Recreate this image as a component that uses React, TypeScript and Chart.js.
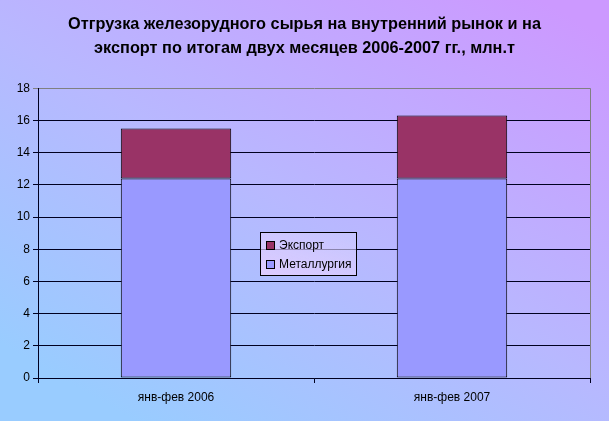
import React, { useEffect, useRef } from "react";
import { Chart, registerables } from "chart.js";

Chart.register(...registerables);

const categories = ["янв-фев 2006", "янв-фев 2007"];
const metallurgy = [12.4, 12.4];
const exportVals = [3.1, 3.9];
const titleLines = [
  "Отгрузка железорудного сырья на внутренний рынок и на",
  "экспорт по итогам двух месяцев 2006-2007 гг., млн.т",
];
const legendItems = [
  { label: "Экспорт", color: "#993366" },
  { label: "Металлургия", color: "#9999FF" },
];

const borderPlugin = {
  id: "plotBorder",
  beforeDatasetsDraw(chart: any) {
    const { ctx, chartArea } = chart;
    ctx.save();
    ctx.strokeStyle = "#808080";
    ctx.lineWidth = 1;
    ctx.beginPath();
    ctx.moveTo(chartArea.right + 0.5, chartArea.top);
    ctx.lineTo(chartArea.right + 0.5, chartArea.bottom);
    ctx.stroke();
    ctx.restore();
  },
};

export default function App() {
  const ref = useRef<HTMLCanvasElement>(null);
  useEffect(() => {
    if (!ref.current) return;
    const chart = new Chart(ref.current, {
      type: "bar",
      data: {
        labels: categories,
        datasets: [
          {
            label: "Металлургия",
            data: metallurgy,
            backgroundColor: "#9999FF",
            borderColor: "#000000",
            borderWidth: 1,
            borderSkipped: false,
          },
          {
            label: "Экспорт",
            data: exportVals,
            backgroundColor: "#993366",
            borderColor: "#000000",
            borderWidth: 1,
            borderSkipped: false,
          },
        ],
      },
      options: {
        animation: false,
        responsive: false,
        layout: { padding: { left: 0, right: 0, top: 0, bottom: 0 } },
        datasets: { bar: { categoryPercentage: 1, barPercentage: 0.4 } },
        plugins: {
          legend: { display: false },
          tooltip: { enabled: false },
          title: {
            display: true,
            text: titleLines,
            color: "#000000",
            font: { family: "Arial", size: 16.3, weight: "bold", lineHeight: 1.48 },
            padding: { top: 12, bottom: 28 },
          },
        },
        scales: {
          x: {
            stacked: true,
            offset: true,
            afterFit: (s: any) => {
              s.height = 43;
            },
            border: { display: true, color: "#000020", width: 1 },
            grid: {
              offset: true,
              drawOnChartArea: false,
              drawTicks: true,
              tickLength: 5,
              color: "#000020",
            },
            ticks: {
              color: "#000000",
              font: { family: "Arial", size: 12 },
              padding: 7,
            },
          },
          y: {
            stacked: true,
            min: 0,
            max: 18,
            afterFit: (s: any) => {
              s.width = 38;
            },
            border: { display: true, color: "#000020", width: 1 },
            grid: {
              color: (c: any) => (c.tick && c.tick.value === 18 ? "#808080" : "#000020"),
              tickLength: 5,
              drawTicks: true,
            },
            ticks: {
              stepSize: 2,
              color: "#000000",
              font: { family: "Arial", size: 12 },
              padding: 3,
            },
          },
          yRight: {
            position: "right",
            display: true,
            afterFit: (s: any) => {
              s.width = 19;
            },
            grid: { display: false, drawTicks: false },
            border: { display: false },
            ticks: { display: false },
          },
        },
      },
      plugins: [borderPlugin],
    });
    return () => chart.destroy();
  }, []);

  return (
    <div
      style={{
        position: "absolute",
        left: 0,
        top: 0,
        width: 609,
        height: 421,
        background: "linear-gradient(30deg, #99CCFF 10%, #B8B8FF 50%, #CC99FF 95%)",
        overflow: "hidden",
      }}
    >
      <canvas ref={ref} width={609} height={421} style={{ display: "block" }} />
      <div
        style={{
          position: "absolute",
          left: 260,
          top: 232,
          width: 97,
          height: 44,
          boxSizing: "border-box",
          border: "1px solid #000000",
          background: "linear-gradient(20deg, rgba(240,210,255,0.7), rgba(205,205,255,0.6))",
          fontFamily: "Arial, 'Liberation Sans', sans-serif",
          fontSize: 12,
          color: "#000000",
          padding: "3px 0 0 5px",
        }}
      >
        {legendItems.map((it) => (
          <div
            key={it.label}
            style={{ display: "flex", alignItems: "center", height: 19, lineHeight: "19px" }}
          >
            <span
              style={{
                display: "inline-block",
                width: 7,
                height: 7,
                background: it.color,
                border: "1px solid #000000",
                marginRight: 4,
              }}
            />
            <span>{it.label}</span>
          </div>
        ))}
      </div>
    </div>
  );
}
